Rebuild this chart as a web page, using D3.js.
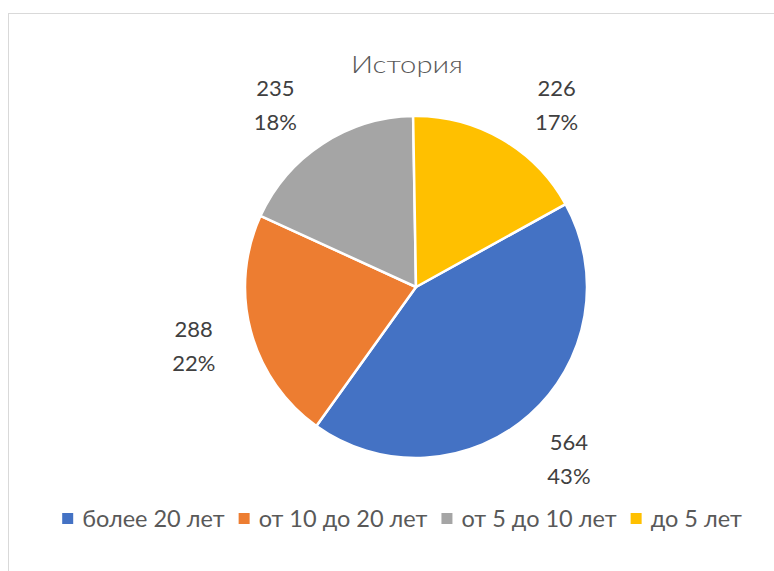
<!DOCTYPE html>
<html>
  <head>
    <meta charset="utf-8" />
    <script src="https://d3js.org/d3.v7.min.js"></script>
    <title>История</title>
    <style>
      body { margin: 0; background: #fff; }
      text { font-family: Lato, "Open Sans", sans-serif; }
      .title { fill: #595959; font-size: 24px; font-weight: 300; }
      .label { fill: #404040; font-size: 22px; }
      .legend text { fill: #595959; font-size: 23.5px; }
    </style>
  </head>
  <body>

    <svg id="chart" width="774" height="571"></svg>

    <script>

      var categories = ["более 20 лет", "от 10 до 20 лет", "от 5 до 10 лет", "до 5 лет"];
      var values = [564, 288, 235, 226];
      var colors = ["#4472c4", "#ed7d31", "#a5a5a5", "#ffc000"];

      var svg = d3.select("#chart");

      // chart area border (only top and left edges fall in the picture)
      svg.append("rect")
        .attr("x", 8.5)
        .attr("y", 13.5)
        .attr("width", 800)
        .attr("height", 600)
        .attr("fill", "none")
        .attr("stroke", "#d9d9d9");

      svg.append("text")
        .attr("class", "title")
        .attr("x", 351)
        .attr("y", 73)
        .attr("textLength", 112)
        .attr("lengthAdjust", "spacingAndGlyphs")
        .text("История");

      var cx = 416, cy = 287, radius = 171;
      var total = d3.sum(values);

      var pie = d3.pie()
        .sort(null)
        .startAngle(61 * Math.PI / 180)
        .endAngle(61 * Math.PI / 180 + 2 * Math.PI);

      var arcs = pie(values);

      var arc = d3.arc().innerRadius(0).outerRadius(radius);

      var g = svg.append("g").attr("transform", "translate(" + cx + "," + cy + ")");

      g.selectAll(".slice")
        .data(arcs)
        .enter().append("path")
        .attr("class", "slice")
        .attr("d", arc)
        .attr("fill", function(d, i) { return colors[i]; })
        .attr("stroke", "#fff")
        .attr("stroke-width", 2.5)
        .attr("stroke-linejoin", "round");

      // labels sit on a circle outside the pie, kept below the title
      var labelR = 230;
      var minY = 105 - cy;

      g.selectAll(".label")
        .data(arcs)
        .enter().append("text")
        .attr("class", "label")
        .attr("text-anchor", "middle")
        .each(function(d, i) {
          var a = (d.startAngle + d.endAngle) / 2;
          var x = labelR * Math.sin(a);
          var y = -labelR * Math.cos(a);
          if (y < minY) {
            y = minY;
            var s = Math.sin(a) < 0 ? -1 : 1;
            x = s * Math.sqrt(labelR * labelR - y * y);
          }
          var t = d3.select(this);
          t.append("tspan")
            .attr("x", x)
            .attr("y", y - 9)
            .text(values[i]);
          t.append("tspan")
            .attr("x", x)
            .attr("y", y + 25)
            .text(Math.round(values[i] / total * 100) + "%");
        });

      // legend
      var legend = svg.append("g").attr("class", "legend");
      var items = legend.selectAll("g")
        .data(categories)
        .enter().append("g");

      items.append("rect")
        .attr("width", 11)
        .attr("height", 11)
        .attr("y", 513)
        .attr("fill", function(d, i) { return colors[i]; });

      items.append("text")
        .attr("x", 20)
        .attr("y", 527)
        .text(function(d) { return d; });

      var widths = [];
      items.each(function() {
        widths.push(d3.select(this).select("text").node().getComputedTextLength() + 20);
      });
      var gap = 14;
      var totalW = d3.sum(widths) + gap * (widths.length - 1);
      var x0 = 402 - totalW / 2;
      items.attr("transform", function(d, i) {
        var x = x0 + d3.sum(widths.slice(0, i)) + gap * i;
        return "translate(" + x + ",0)";
      });

    </script>

  </body>
</html>
